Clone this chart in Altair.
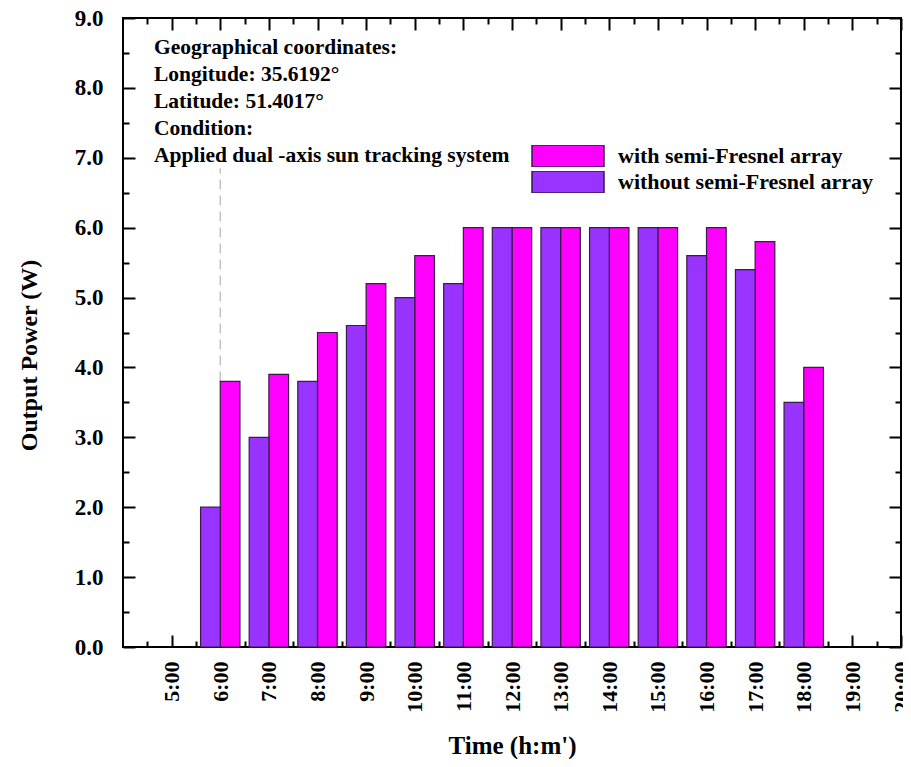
import altair as alt
import pandas as pd

# ---- data ----
hours = [6, 7, 8, 9, 10, 11, 12, 13, 14, 15, 16, 17, 18]
with_fresnel = [3.8, 3.9, 4.5, 5.2, 5.6, 6.0, 6.0, 6.0, 6.0, 6.0, 6.0, 5.8, 4.0]
without_fresnel = [2.0, 3.0, 3.8, 4.6, 5.0, 5.2, 6.0, 6.0, 6.0, 6.0, 5.6, 5.4, 3.5]
series_names = ["with semi-Fresnel array", "without semi-Fresnel array"]
series_colors = ["#FF00FF", "#9933FF"]

x_label_hours = list(range(5, 21))
x_minor_hours = [h + 0.5 for h in range(4, 20)]
y_major = list(range(0, 10))
y_minor = [v + 0.5 for v in range(0, 9)]

annotation_lines = [
    "Geographical coordinates:",
    "Longitude: 35.6192°",
    "Latitude: 51.4017°",
    "Condition:",
    "Applied  dual -axis sun tracking system",
]
guide_hour = [6]
guide_low = [3.8]
guide_high = [6.85]

# ---- tables ----
rows = []
for h, w, wo in zip(hours, with_fresnel, without_fresnel):
    rows.append({"hour": h, "series": series_names[0], "value": w, "side": 1})
    rows.append({"hour": h, "series": series_names[1], "value": wo, "side": -1})
df = pd.DataFrame(rows)
guide_df = pd.DataFrame({"hour": guide_hour, "low": guide_low, "high": guide_high})

FONT = "Liberation Serif"
BW = 0.405
xscale = alt.Scale(domain=[4, 20], nice=False, zero=False)
yscale = alt.Scale(domain=[0, 9], nice=False, zero=False)


def tick_axis(orient, values, size):
    return alt.Axis(orient=orient, values=values, tickSize=size, offset=-size,
                    tickWidth=2, tickColor="black", domain=False, grid=False,
                    labels=False, title="")


x_main = alt.Axis(
    orient="bottom", values=x_label_hours, tickSize=12, offset=-12, tickWidth=2,
    tickColor="black", domain=False, grid=False,
    labelExpr="datum.value + ':00'", labelAngle=-90, labelFlush=False,
    labelOverlap=False, labelFont=FONT, labelFontWeight="bold", labelFontSize=22,
    labelColor="black", labelPadding=14,
    title="Time (h:m')", titleFont=FONT, titleFontSize=25, titleFontWeight="bold",
    titleColor="black", titlePadding=21,
)
y_main = alt.Axis(
    orient="left", values=y_major, format=".1f", tickSize=12, offset=-12, tickWidth=2,
    tickColor="black", domain=False, grid=False, labelFlush=False, labelOverlap=False,
    labelFont=FONT, labelFontWeight="bold", labelFontSize=23, labelColor="black",
    labelPadding=20,
    title="Output Power (W)", titleFont=FONT, titleFontSize=24, titleFontWeight="bold",
    titleColor="black", titlePadding=33, titleY=337,
)

legend = alt.Legend(
    orient="none", legendX=408, legendY=127, title=None,
    symbolType="M-1,-0.3056L1,-0.3056L1,0.3056L-1,0.3056Z", symbolSize=5184,
    symbolStrokeColor="#3a1a4a", symbolStrokeWidth=1.5, symbolOpacity=1,
    labelFont=FONT, labelFontSize=22, labelFontWeight="bold", labelColor="black",
    labelOffset=13, labelLimit=400, clipHeight=22, rowPadding=4, padding=0,
)

bars = alt.Chart(df).transform_calculate(
    x0=f"datum.side == 1 ? datum.hour : datum.hour - {BW}",
    x1=f"datum.side == 1 ? datum.hour + {BW} : datum.hour",
    base="0",
).mark_bar(stroke="#3a1a4a", strokeWidth=1.2, opacity=1).encode(
    x=alt.X("x0:Q", scale=xscale, axis=x_main),
    x2="x1:Q",
    y=alt.Y("value:Q", scale=yscale, axis=y_main),
    y2="base:Q",
    color=alt.Color("series:N", scale=alt.Scale(domain=series_names, range=series_colors),
                    legend=legend),
)

ghost_a = alt.Chart(df).mark_point(opacity=0).encode(
    x=alt.X("hour:Q", scale=xscale, axis=tick_axis("bottom", x_minor_hours, 6)),
    y=alt.Y("value:Q", scale=yscale, axis=tick_axis("left", y_minor, 6)),
)
ghost_b = alt.Chart(df).mark_point(opacity=0).encode(
    x=alt.X("hour:Q", scale=xscale, axis=tick_axis("top", x_label_hours, 12)),
    y=alt.Y("value:Q", scale=yscale, axis=tick_axis("right", y_major, 12)),
)
ghost_c = alt.Chart(df).mark_point(opacity=0).encode(
    x=alt.X("hour:Q", scale=xscale, axis=tick_axis("top", x_minor_hours, 6)),
    y=alt.Y("value:Q", scale=yscale, axis=tick_axis("right", y_minor, 6)),
)

guide = alt.Chart(guide_df).mark_rule(color="#c4c4c4", strokeWidth=1.5, strokeDash=[10, 6]).encode(
    x=alt.X("hour:Q", scale=xscale, axis=None),
    y=alt.Y("low:Q", scale=yscale, axis=None),
    y2="high:Q",
)

note = alt.Chart(alt.Data(values=[{}])).mark_text(
    text=annotation_lines, align="left", baseline="alphabetic", font=FONT,
    fontSize=21.5, fontWeight="bold", lineHeight=27, color="black",
).encode(x=alt.value(31), y=alt.value(36))

chart = alt.layer(ghost_a, ghost_b, ghost_c, guide, bars, note).resolve_axis(
    x="independent", y="independent"
).properties(
    width=778, height=629,
    background="white",
    autosize=alt.AutoSizeParams(type="none"),
    padding={"left": 115, "top": 10, "right": 2, "bottom": 112},
).configure_view(stroke="black", strokeWidth=2)

chart.save("out.html", embed_options={"renderer": "svg", "actions": False})
